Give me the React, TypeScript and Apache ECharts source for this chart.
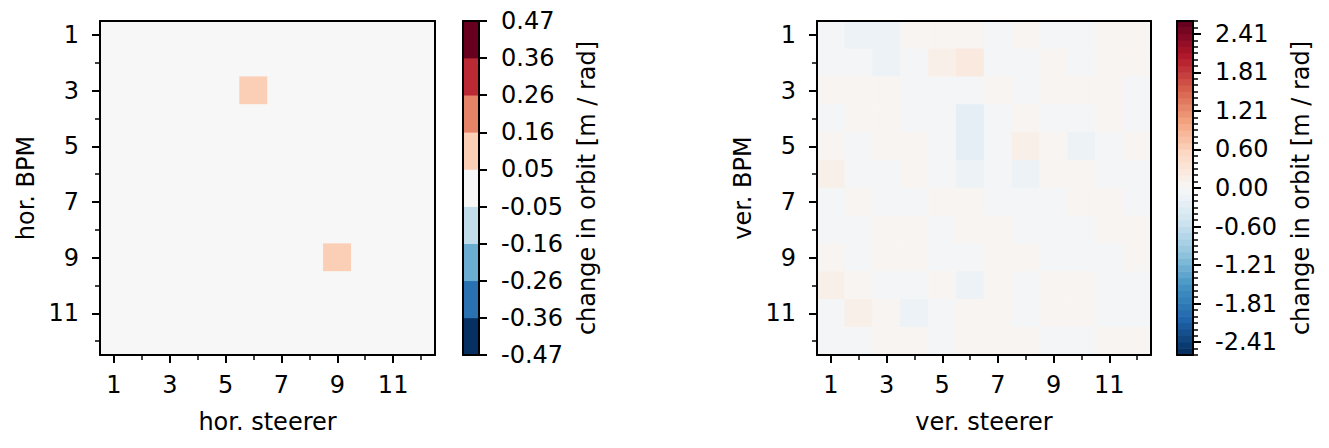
import React, { useEffect, useRef } from "react";
import * as echarts from "echarts";

const steerers = ["1", "2", "3", "4", "5", "6", "7", "8", "9", "10", "11", "12"];
const bpms = ["1", "2", "3", "4", "5", "6", "7", "8", "9", "10", "11", "12"];

// rows = BPM 1..12, cols = steerer 1..12
const horValues: number[][] = [
  [0, 0, 0, 0, 0, 0, 0, 0, 0, 0, 0, 0],
  [0, 0, 0, 0, 0, 0, 0, 0, 0, 0, 0, 0],
  [0, 0, 0, 0, 0, 0.1, 0, 0, 0, 0, 0, 0],
  [0, 0, 0, 0, 0, 0, 0, 0, 0, 0, 0, 0],
  [0, 0, 0, 0, 0, 0, 0, 0, 0, 0, 0, 0],
  [0, 0, 0, 0, 0, 0, 0, 0, 0, 0, 0, 0],
  [0, 0, 0, 0, 0, 0, 0, 0, 0, 0, 0, 0],
  [0, 0, 0, 0, 0, 0, 0, 0, 0, 0, 0, 0],
  [0, 0, 0, 0, 0, 0, 0, 0, 0.1, 0, 0, 0],
  [0, 0, 0, 0, 0, 0, 0, 0, 0, 0, 0, 0],
  [0, 0, 0, 0, 0, 0, 0, 0, 0, 0, 0, 0],
  [0, 0, 0, 0, 0, 0, 0, 0, 0, 0, 0, 0],
];

const verValues: number[][] = [
  [-0.05, -0.14, -0.13, 0.04, 0.05, 0.06, -0.04, 0.05, -0.05, -0.06, 0.04, 0.05],
  [-0.05, -0.04, -0.15, -0.05, 0.14, 0.24, -0.05, -0.04, 0.05, -0.05, 0.04, 0.05],
  [0.04, 0.05, 0.05, -0.05, -0.05, -0.04, 0.05, -0.05, 0.05, 0.04, 0.05, -0.04],
  [-0.05, 0.05, 0.04, -0.05, -0.04, -0.24, -0.05, 0.05, -0.05, -0.04, 0.05, -0.05],
  [0.05, -0.05, 0.04, 0.05, -0.05, -0.23, -0.04, 0.15, 0.05, -0.14, -0.05, 0.05],
  [0.14, -0.05, -0.04, 0.05, -0.05, -0.14, -0.05, -0.15, 0.05, 0.04, -0.05, -0.04],
  [-0.05, 0.05, -0.05, -0.04, 0.05, 0.05, -0.05, -0.04, -0.05, 0.05, 0.04, -0.05],
  [-0.04, -0.05, 0.05, 0.05, -0.05, 0.04, 0.05, -0.05, -0.04, -0.05, 0.05, 0.05],
  [0.05, -0.05, 0.04, 0.05, -0.04, -0.05, 0.05, 0.04, -0.05, -0.05, -0.04, 0.05],
  [0.15, 0.05, -0.05, -0.05, 0.05, -0.15, 0.04, -0.05, 0.05, 0.05, -0.05, -0.04],
  [-0.05, 0.14, 0.05, -0.14, -0.05, 0.05, 0.05, -0.04, 0.05, 0.04, -0.05, -0.05],
  [-0.04, -0.05, 0.05, 0.04, -0.05, 0.05, 0.04, 0.05, -0.05, -0.04, 0.05, 0.05],
];

const horCbMax = 0.47;
const horCbBins = 9;
const horCbTickLabels = ["-0.47", "-0.36", "-0.26", "-0.16", "-0.05", "0.05", "0.16", "0.26", "0.36", "0.47"];

const verCbMax = 2.611;
const verCbBins = 52;
const verCbTickValues = [-2.41, -1.8075, -1.205, -0.6025, 0, 0.6025, 1.205, 1.8075, 2.41];
const verCbTickLabels = ["-2.41", "-1.81", "-1.21", "-0.60", "0.00", "0.60", "1.21", "1.81", "2.41"];

const RDBU_R = [
  "#053061", "#2166ac", "#4393c3", "#92c5de", "#d1e5f0", "#f7f7f7",
  "#fddbc7", "#f4a582", "#d6604d", "#b2182b", "#67001f",
];

const FONT = "DejaVu Sans";
const FS = 24;

function hexToRgb(h: string) {
  return [parseInt(h.slice(1, 3), 16), parseInt(h.slice(3, 5), 16), parseInt(h.slice(5, 7), 16)];
}
function cmap(t: number) {
  const x = Math.max(0, Math.min(1, t)) * (RDBU_R.length - 1);
  const i = Math.min(Math.floor(x), RDBU_R.length - 2);
  const f = x - i;
  const a = hexToRgb(RDBU_R[i]);
  const b = hexToRgb(RDBU_R[i + 1]);
  const c = a.map((v, k) => Math.round(v + (b[k] - v) * f));
  return `rgb(${c[0]},${c[1]},${c[2]})`;
}
function makeBins(vmax: number, n: number) {
  const w = (2 * vmax) / n;
  const out: { min: number; max: number; color: string }[] = [];
  for (let i = 0; i < n; i++) {
    out.push({ min: -vmax + i * w, max: -vmax + (i + 1) * w, color: cmap(i / (n - 1)) });
  }
  return out;
}
function makeBoundaries(vmax: number, n: number) {
  const w = (2 * vmax) / n;
  const out: number[] = [];
  for (let i = 0; i <= n; i++) out.push(-vmax + i * w);
  return out;
}
function toCells(m: number[][]) {
  const out: number[][] = [];
  m.forEach((row, r) => row.forEach((v, c) => out.push([c, r, v])));
  return out;
}

const black = "#000";
const txt = { fontFamily: FONT, fontSize: FS, color: black };
const line = { show: true, onZero: false, lineStyle: { color: black, width: 2 } };

function heatmapAxes(g: number, xName: string, yName: string) {
  const xs = [
    {
      gridIndex: g, type: "category", data: steerers, position: "bottom", z: 5,
      axisLine: line,
      axisTick: { show: true, alignWithLabel: true, interval: 1, length: 8, lineStyle: { color: black, width: 2 } },
      axisLabel: { interval: 1, margin: 18, ...txt },
      splitLine: { show: false },
      name: xName, nameLocation: "middle", nameGap: 55, nameTextStyle: txt,
    },
    {
      gridIndex: g, type: "category", data: steerers, position: "bottom", z: 5,
      axisLine: { show: false, onZero: false },
      axisTick: { show: true, alignWithLabel: true, interval: 0, length: 5, lineStyle: { color: black, width: 1.5 } },
      axisLabel: { show: false }, splitLine: { show: false },
    },
    {
      gridIndex: g, type: "category", data: steerers, position: "top", z: 5,
      axisLine: line,
      axisTick: { show: false }, axisLabel: { show: false }, splitLine: { show: false },
    },
  ];
  const ys = [
    {
      gridIndex: g, type: "category", data: bpms, inverse: true, position: "left", z: 5,
      axisLine: line,
      axisTick: { show: true, alignWithLabel: true, interval: 1, length: 8, lineStyle: { color: black, width: 2 } },
      axisLabel: { interval: 1, margin: 21, ...txt },
      splitLine: { show: false },
      name: yName, nameLocation: "middle", nameGap: 62, nameRotate: 90, nameTextStyle: txt,
    },
    {
      gridIndex: g, type: "category", data: bpms, inverse: true, position: "left", z: 5,
      axisLine: { show: false, onZero: false },
      axisTick: { show: true, alignWithLabel: true, interval: 0, length: 5, lineStyle: { color: black, width: 1.5 } },
      axisLabel: { show: false }, splitLine: { show: false },
    },
    {
      gridIndex: g, type: "category", data: bpms, inverse: true, position: "right", z: 5,
      axisLine: line,
      axisTick: { show: false }, axisLabel: { show: false }, splitLine: { show: false },
    },
  ];
  return { xs, ys };
}

function colorbarAxes(g: number, vmax: number, tickValues: number[], tickLabels: string[], minorValues: number[] | null) {
  const xs = ["bottom", "top"].map((p) => ({
    gridIndex: g, type: "value", min: 0, max: 1, position: p, z: 5,
    axisLine: line,
    axisTick: { show: false }, axisLabel: { show: false }, splitLine: { show: false },
  }));
  const ys: any[] = [
    {
      gridIndex: g, type: "value", min: -vmax, max: vmax, position: "right", z: 5,
      axisLine: line,
      axisTick: { show: true, customValues: tickValues, length: 8, lineStyle: { color: black, width: 2 } },
      axisLabel: {
        show: true, customValues: tickValues, margin: 22, ...txt,
        formatter: (v: number) => {
          const i = tickValues.findIndex((t) => Math.abs(t - v) < 1e-6);
          return i >= 0 ? tickLabels[i] : "";
        },
      },
      splitLine: { show: false },
      name: "change in orbit [m / rad]", nameLocation: "middle", nameRotate: 90, nameGap: 96, nameTextStyle: txt,
    },
    {
      gridIndex: g, type: "value", min: -vmax, max: vmax, position: "left", z: 5,
      axisLine: line,
      axisTick: { show: false }, axisLabel: { show: false }, splitLine: { show: false },
    },
  ];
  if (minorValues) {
    ys.push({
      gridIndex: g, type: "value", min: -vmax, max: vmax, position: "right", z: 5,
      axisLine: { show: false, onZero: false },
      axisTick: { show: true, customValues: minorValues, length: 5, lineStyle: { color: black, width: 1.5 } },
      axisLabel: { show: false }, splitLine: { show: false },
    });
  }
  return { xs, ys };
}

function colorbarSeries(xi: number, yi: number, bins: { min: number; max: number; color: string }[]) {
  return {
    type: "custom", xAxisIndex: xi, yAxisIndex: yi, silent: true, clip: false, z: 2,
    encode: { x: 0, y: [1, 2] },
    data: bins.map((b) => ({ value: [0.5, b.min, b.max], itemStyle: { color: b.color } })),
    renderItem: (params: any, api: any) => {
      const lo = api.value(1);
      const hi = api.value(2);
      const p1 = api.coord([0, hi]);
      const p2 = api.coord([1, lo]);
      return {
        type: "rect",
        shape: { x: p1[0], y: p1[1] - 0.3, width: p2[0] - p1[0], height: p2[1] - p1[1] + 0.6 },
        style: { fill: api.visual("color") },
      };
    },
  };
}

export default function App() {
  const ref = useRef<HTMLDivElement>(null);
  useEffect(() => {
    if (!ref.current) return;
    const chart = echarts.init(ref.current, undefined, { renderer: "svg" });
    const horBins = makeBins(horCbMax, horCbBins);
    const verBins = makeBins(verCbMax, verCbBins);
    const horTicks = makeBoundaries(horCbMax, horCbBins);
    const verMinor = makeBoundaries(verCbMax, verCbBins);

    const hL = heatmapAxes(0, "hor. steerer", "hor. BPM");
    const cL = colorbarAxes(1, horCbMax, horTicks, horCbTickLabels, null);
    const hR = heatmapAxes(2, "ver. steerer", "ver. BPM");
    const cR = colorbarAxes(3, verCbMax, verCbTickValues, verCbTickLabels, verMinor);

    const xAxis = [...hL.xs, ...cL.xs, ...hR.xs, ...cR.xs];
    const yAxis = [...hL.ys, ...cL.ys, ...hR.ys, ...cR.ys];
    const xHL = 0, yHL = 0;
    const xCL = 3, yCL = 3;
    const xHR = 5, yHR = 5;
    const xCR = 8, yCR = 8;

    chart.setOption({
      animation: false,
      backgroundColor: "#fff",
      textStyle: { fontFamily: FONT },
      grid: [
        { left: 100, top: 21, width: 335, height: 334 },
        { left: 463, top: 21, width: 16, height: 334 },
        { left: 817, top: 21, width: 334, height: 334 },
        { left: 1177, top: 21, width: 16, height: 334 },
      ],
      xAxis,
      yAxis,
      visualMap: [
        { type: "piecewise", show: false, seriesIndex: 0, dimension: 2, pieces: horBins.map((b) => ({ min: b.min, max: b.max, color: b.color })) },
        { type: "piecewise", show: false, seriesIndex: 2, dimension: 2, pieces: verBins.map((b) => ({ min: b.min, max: b.max, color: b.color })) },
      ],
      series: [
        { type: "heatmap", xAxisIndex: xHL, yAxisIndex: yHL, data: toCells(horValues), silent: true, z: 2 },
        colorbarSeries(xCL, yCL, horBins),
        { type: "heatmap", xAxisIndex: xHR, yAxisIndex: yHR, data: toCells(verValues), silent: true, z: 2 },
        colorbarSeries(xCR, yCR, verBins),
      ],
    });
    return () => chart.dispose();
  }, []);
  return (
    <div
      ref={ref}
      style={{ position: "absolute", left: 0, top: 0, width: 1329, height: 448, background: "#fff" }}
    />
  );
}
